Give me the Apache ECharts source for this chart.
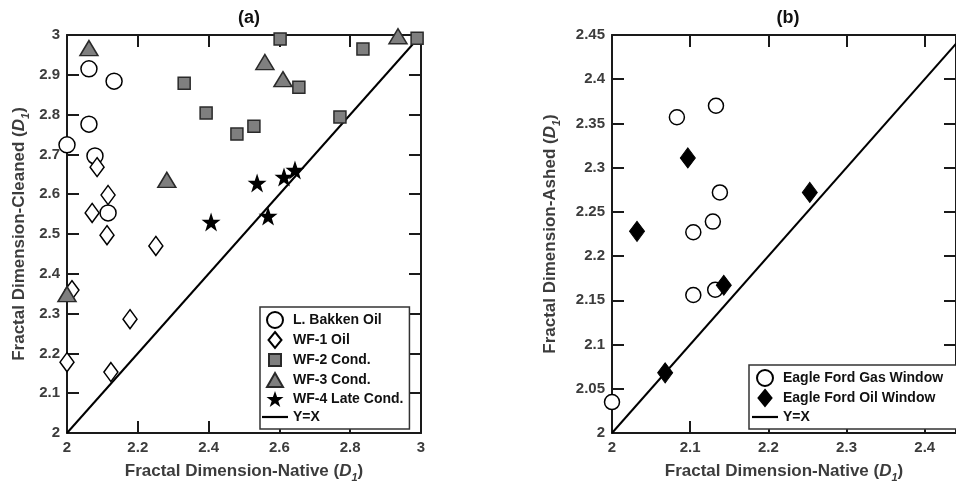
<!DOCTYPE html>
<html>
<head>
<meta charset="utf-8">
<script src="https://cdn.jsdelivr.net/npm/echarts@6/dist/echarts.min.js"></script>
<style>
html,body{margin:0;padding:0;background:#fff;}
#chart{width:956px;height:489px;}
</style>
</head>
<body>
<div id="chart"></div>
<script>
// ---------- data (panel a) ----------
const bakkenOil = [[2.062,2.915],[2.133,2.884],[2.062,2.776],[2.0,2.724],[2.079,2.696],[2.116,2.553]];
const wf1Oil = [[2.085,2.668],[2.116,2.598],[2.071,2.553],[2.113,2.497],[2.014,2.359],[2.251,2.470],[2.178,2.286],[2.0,2.178],[2.124,2.153]];
const wf2Cond = [[2.602,2.990],[2.331,2.879],[2.655,2.869],[2.393,2.804],[2.480,2.751],[2.528,2.771],[2.836,2.965],[2.771,2.794],[2.989,2.992]];
const wf3Cond = [[2.062,2.967],[2.282,2.636],[2.559,2.932],[2.610,2.889],[2.935,2.997],[2.0,2.349]];
const wf4LateCond = [[2.407,2.530],[2.537,2.628],[2.568,2.545],[2.613,2.643],[2.644,2.661]];
const identityA = [2, 3];
// ---------- data (panel b) ----------
const gasWindow = [[2.083,2.357],[2.133,2.370],[2.138,2.272],[2.129,2.239],[2.104,2.227],[2.104,2.156],[2.132,2.162],[2.0,2.035]];
const oilWindow = [[2.097,2.311],[2.032,2.228],[2.143,2.167],[2.068,2.068],[2.253,2.272]];
const identityB = [2, 2.45];
// ---------- axis ranges [min, max, interval] ----------
const axisAX = [2, 3, 0.2];
const axisAY = [2, 3, 0.1];
const axisBX = [2, 2.44, 0.1];
const axisBY = [2, 2.45, 0.05];
// ---------- texts ----------
const titles = ['(a)', '(b)'];
const xName = 'Fractal Dimension-Native ({i|D}{s|1})';
const yNameA = 'Fractal Dimension-Cleaned ({i|D}{s|1})';
const yNameB = 'Fractal Dimension-Ashed ({i|D}{s|1})';
const legendA = ['L. Bakken Oil', 'WF-1 Oil', 'WF-2 Cond.', 'WF-3 Cond.', 'WF-4 Late Cond.', 'Y=X'];
const legendB = ['Eagle Ford Gas Window', 'Eagle Ford Oil Window', 'Y=X'];

const STAR = 'path://M50,2 L61.8,36.2 L97.6,36.2 L68.6,57.4 L79.6,91.6 L50,70.6 L20.4,91.6 L31.4,57.4 L2.4,36.2 L38.2,36.2 Z';
const ICONS = {
  circle: 'circle',
  diamond: 'path://M0,0 M8,0 L14.5,8 L8,16 L1.5,8 Z M16,16',
  rect: 'path://M0,0 M2,2 L14,2 L14,14 L2,14 Z M16,16',
  triangle: 'path://M0,0 M8,1 L16,15 L0,15 Z M16,16',
  star: 'path://M50,2 L61.8,36.2 L97.6,36.2 L68.6,57.4 L79.6,91.6 L50,70.6 L20.4,91.6 L31.4,57.4 L2.4,36.2 L38.2,36.2 Z',
  line: 'path://M0,7 L26,7 L26,9.2 L0,9.2 Z'
};
const iconsA = ['circle', 'diamond', 'rect', 'triangle', 'star', 'line'];
const iconsB = ['circle', 'diamond', 'line'];

const AX = '#1a1a1a';
const TXT = '#3c3c3c';
const FONT = "'Liberation Sans', Arial, sans-serif";

const rich = {
  i: {fontStyle: 'italic', fontWeight: 'bold', fontSize: 17, color: TXT, fontFamily: FONT},
  s: {fontStyle: 'italic', fontWeight: 'bold', fontSize: 11, color: TXT, fontFamily: FONT, padding: [12, 0, 0, 0]}
};

function mkAxis(grid, r, pos, showLabel, name, nameGap) {
  const a = {
    gridIndex: grid, type: 'value', min: r[0], max: r[1], interval: r[2], position: pos,
    axisLine: {show: true, onZero: false, lineStyle: {color: AX, width: 2}},
    axisTick: {show: true, inside: true, length: 12, lineStyle: {color: AX, width: 2}},
    axisLabel: {show: showLabel, color: TXT, fontWeight: 'bold', fontSize: 15, fontFamily: FONT, margin: 7, showMaxLabel: true},
    splitLine: {show: false}
  };
  if (name) {
    a.name = name; a.nameLocation = 'middle'; a.nameGap = nameGap;
    a.nameTextStyle = {color: TXT, fontWeight: 'bold', fontSize: 17, fontFamily: FONT, rich: rich};
  }
  return a;
}

const xBbottom = mkAxis(1, axisBX, 'bottom', true, xName, 27);
xBbottom.axisLabel.showMaxLabel = false;

function legendData(names, icons) {
  return names.map((n, i) => ({name: n, icon: ICONS[icons[i]]}));
}

const legendCommon = {
  orient: 'vertical', itemWidth: 26, itemHeight: 16, itemGap: 2,
  symbolKeepAspect: true,
  borderColor: '#333', borderWidth: 1.5, backgroundColor: '#fff',
  textStyle: {fontSize: 14, lineHeight: 16, fontWeight: 'bold', color: '#111', fontFamily: FONT},
  selectedMode: false
};

const option = {
  animation: false,
  backgroundColor: '#fff',
  title: [
    {text: titles[0], left: 244, top: 4, textAlign: 'center', textStyle: {fontSize: 18, fontWeight: 'bold', color: '#111', fontFamily: FONT}},
    {text: titles[1], left: 783, top: 4, textAlign: 'center', textStyle: {fontSize: 18, fontWeight: 'bold', color: '#111', fontFamily: FONT}}
  ],
  grid: [
    {left: 67, top: 35, width: 354, height: 398},
    {left: 612, top: 35, width: 345, height: 398}
  ],
  xAxis: [
    mkAxis(0, axisAX, 'bottom', true, xName, 27),
    mkAxis(0, axisAX, 'top', false),
    xBbottom,
    mkAxis(1, axisBX, 'top', false)
  ],
  yAxis: [
    mkAxis(0, axisAY, 'left', true, yNameA, 36),
    mkAxis(0, axisAY, 'right', false),
    mkAxis(1, axisBY, 'left', true, yNameB, 50),
    mkAxis(1, axisBY, 'right', false)
  ],
  legend: [
    Object.assign({}, legendCommon, {data: legendData(legendA, iconsA), left: 260, top: 307, padding: [4, 6, 4, 2]}),
    Object.assign({}, legendCommon, {data: legendData(legendB, iconsB), left: 749, top: 365, padding: [4, 40, 4, 3]})
  ],
  series: [
    {name: 'Y=X', type: 'line', xAxisIndex: 0, yAxisIndex: 0, data: identityA.map(v => [v, v]),
     showSymbol: false, symbol: 'none', lineStyle: {color: '#000', width: 2}, itemStyle: {color: '#000'}, z: 1},
    {name: 'L. Bakken Oil', type: 'scatter', xAxisIndex: 0, yAxisIndex: 0, data: bakkenOil, clip: false,
     symbol: 'circle', symbolSize: 16, itemStyle: {color: '#fff', borderColor: '#000', borderWidth: 1.5, opacity: 1}},
    {name: 'WF-1 Oil', type: 'scatter', xAxisIndex: 0, yAxisIndex: 0, data: wf1Oil, clip: false,
     symbol: 'diamond', symbolSize: [14, 19], itemStyle: {color: '#fff', borderColor: '#000', borderWidth: 1.5, opacity: 1}},
    {name: 'WF-2 Cond.', type: 'scatter', xAxisIndex: 0, yAxisIndex: 0, data: wf2Cond, clip: false,
     symbol: 'rect', symbolSize: 12, itemStyle: {color: '#7f7f7f', borderColor: '#2a2a2a', borderWidth: 1.5, opacity: 1}},
    {name: 'WF-3 Cond.', type: 'scatter', xAxisIndex: 0, yAxisIndex: 0, data: wf3Cond, clip: false,
     symbol: 'triangle', symbolSize: [18, 15], itemStyle: {color: '#7f7f7f', borderColor: '#2a2a2a', borderWidth: 1.5, opacity: 1}},
    {name: 'WF-4 Late Cond.', type: 'scatter', xAxisIndex: 0, yAxisIndex: 0, data: wf4LateCond, clip: false,
     symbol: STAR, symbolSize: 19, itemStyle: {color: '#000', borderColor: '#000', borderWidth: 0, opacity: 1}},

    {name: 'Y=X', type: 'line', xAxisIndex: 2, yAxisIndex: 2, data: identityB.map(v => [v, v]),
     showSymbol: false, symbol: 'none', lineStyle: {color: '#000', width: 2}, itemStyle: {color: '#000'}, z: 1},
    {name: 'Eagle Ford Gas Window', type: 'scatter', xAxisIndex: 2, yAxisIndex: 2, data: gasWindow, clip: false,
     symbol: 'circle', symbolSize: 15, itemStyle: {color: '#fff', borderColor: '#000', borderWidth: 1.5, opacity: 1}},
    {name: 'Eagle Ford Oil Window', type: 'scatter', xAxisIndex: 2, yAxisIndex: 2, data: oilWindow, clip: false,
     symbol: 'diamond', symbolSize: [15, 20], itemStyle: {color: '#000', borderColor: '#000', borderWidth: 1, opacity: 1}}
  ]
};

const chart = echarts.init(document.getElementById('chart'), null, {renderer: 'canvas'});
chart.setOption(option);
</script>
</body>
</html>
